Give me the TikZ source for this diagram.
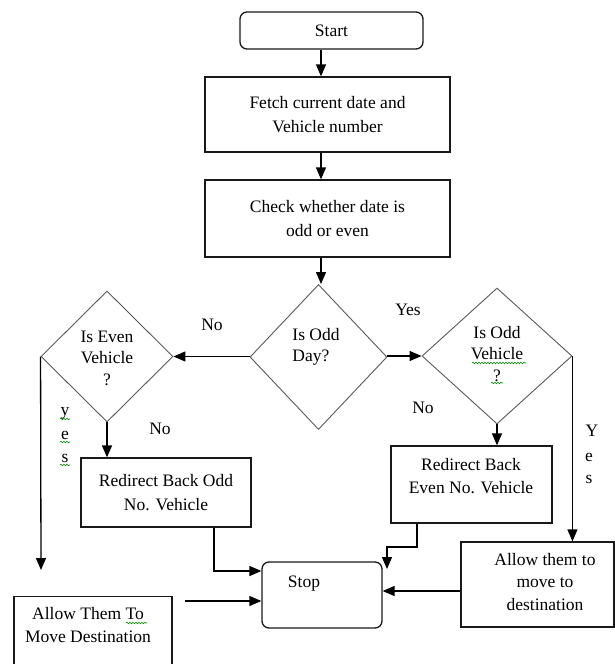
\documentclass[tikz,border=0pt]{standalone}
\usepackage{fontspec}
\setmainfont{Liberation Serif}
\usetikzlibrary{arrows.meta,shapes.geometric,decorations.pathmorphing}
\begin{document}
\begin{tikzpicture}[x=1pt,y=-1pt,
  font=\fontsize{17.5}{23.5}\selectfont,
  box/.style={draw=black!90, line width=1.3pt, inner sep=0pt, align=center},
  rbox/.style={box, rounded corners=7pt},
  dec/.style={diamond, draw=black!65, line width=0.9pt, inner sep=0pt},
  arr/.style={-{Triangle[length=12pt,width=10pt]}, line width=1.3pt, black},
  txt/.style={align=center, inner sep=0pt},
  dtxt/.style={align=center, inner sep=0pt, font=\fontsize{17.5}{21.5}\selectfont},
  lbl/.style={inner sep=0pt},
  squig/.style={draw=green!55!black, line width=0.6pt, decorate, decoration={snake, amplitude=0.8pt, segment length=3pt}}
]
\useasboundingbox[fill=white] (0,0) rectangle (615,664);

% boxes
\node[rbox, minimum width=183pt, minimum height=37pt] (start) at (331.5,30.5) {Start};
\node[box, minimum width=245pt, minimum height=75pt] (fetch) at (327.5,114.5) {Fetch current date and\\Vehicle number};
\node[box, minimum width=245pt, minimum height=77pt] (check) at (327.5,218.5) {Check whether date is\\odd or even};

% decisions
\node[dec, minimum width=137pt, minimum height=145pt] (d1) at (318.5,357) {};
\node[dtxt, align=left] (d1t) at (316,347) {Is Odd\\Day?};
\node[dec, minimum width=132pt, minimum height=131pt] (d2) at (107,356.5) {};
\node[dtxt] (d2t) at (107,358) {Is Even\\Vehicle\\?};
\node[dec, minimum width=150pt, minimum height=136pt] (d3) at (497,356) {};
\node[dtxt] (d3t) at (497,354) {Is Odd\\Vehicle\\?};

% outcome boxes
\node[box, minimum width=170pt, minimum height=69pt] (r1) at (166,492.5) {Redirect Back Odd\\No. Vehicle};
\node[box, minimum width=161pt, minimum height=77pt] (r2) at (471.5,484.5) {};
\node[txt] (r2t) at (471,476) {Redirect Back\\Even No. Vehicle};
\node[box, minimum width=153pt, minimum height=85pt] (a3) at (537.5,584.5) {};
\node[txt, font=\fontsize{17.5}{22.5}\selectfont] (a3t) at (545,582) {Allow them to\\move to\\destination};
\node[box, anchor=north, minimum width=158pt, minimum height=100pt] (a1) at (93,596) {};
\node[txt] (a1t) at (88,625) {Allow Them To\\Move Destination};
\node[rbox, minimum width=120pt, minimum height=66pt] (stop) at (322,595) {};
\node[txt] (stopt) at (304,584) {Stop};

% connectors
\coordinate (ax) at (321,0);
\draw[arr] (start.south -| ax) -- (fetch.north -| ax);
\draw[arr] (fetch.south -| ax) -- (check.north -| ax);
\draw[arr] (check.south -| ax) -- (d1.north -| ax);
\draw[arr] (d1.west |- d2.east) -- (d2.east);
\draw[arr] (d1.east |- d3.west) -- (d3.west);
\draw[arr] (d2.south) -- (r1.north -| d2.south);
\coordinate (ye) at (41,570);
\draw[arr] (d2.west) -- (ye);
\draw[arr] (d3.south) -- (r2.north -| d3.south);
\draw[arr] (d3.east) -- (d3.east |- a3.north);
\coordinate (r1o) at (214,0);
\coordinate (r1y) at (0,571);
\draw[arr] (r1.south -| r1o) |- (stop.west |- r1y);
\coordinate (r2o) at (417,547);
\coordinate (r2e) at (387,569);
\draw[arr] (r2.south -| r2o) -- (r2o) -| (r2e);
\coordinate (a3y) at (0,591);
\draw[arr] (a3.west |- a3y) -- (stop.east |- a3y);
\coordinate (fs) at (185,601);
\draw[arr] (fs) -- (stop.west |- fs);

% labels
\node[lbl] (no1) at (212,325) {No};
\node[lbl] (yes1) at (408,310) {Yes};
\node[lbl] (no2) at (423,408) {No};
\node[lbl] (no3) at (160,429) {No};
\node[lbl] (ly) at (65,413) {y};
\node[lbl] (le) at (65,435) {e};
\node[lbl] (ls) at (65,458) {s};
\node[lbl] (rY) at (592,431) {Y};
\node[lbl] (re) at (589,457) {e};
\node[lbl] (rs) at (589,479) {s};

% spelling squiggles
\path[squig] (472,363) -- (526,363);
\path[squig] (491,383) -- (503,383);
\path[squig] (60,419) -- (70,419);
\path[squig] (60,442) -- (70,442);
\path[squig] (60,465) -- (70,465);
\path[squig] (126,623) -- (147,623);
\end{tikzpicture}
\end{document}
